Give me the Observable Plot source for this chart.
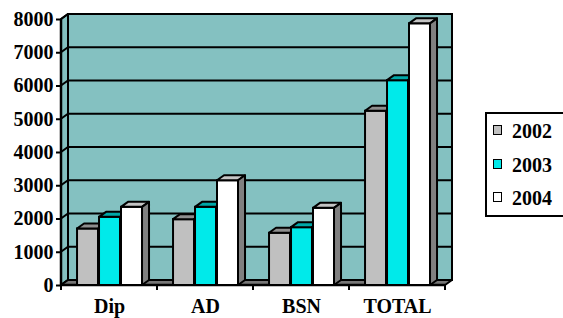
<!DOCTYPE html>
<html><head><meta charset="utf-8">
<script src="https://cdn.jsdelivr.net/npm/d3@7"></script>
<script src="https://cdn.jsdelivr.net/npm/@observablehq/plot@0.6"></script>
<style>
body{margin:0;background:#fff;}
#wrap{position:relative;width:563px;height:318px;overflow:hidden;background:#fff;}
.leg{position:absolute;left:485px;top:112px;width:120px;height:101px;border:2px solid #000;background:#fff;}
.item{position:absolute;left:0;height:20px;line-height:20px;font:bold 20px "Liberation Serif","Times New Roman",serif;color:#000;white-space:nowrap;}
.sw{position:absolute;left:6px;width:7px;height:8px;border:1.5px solid #000;}
.lt{position:absolute;left:25px;top:0;}
</style></head>
<body><div id="wrap"></div>
<script>
const categories = ["Dip", "AD", "BSN", "TOTAL"];
const years = ["2002", "2003", "2004"];
const values2002 = [1700, 1980, 1570, 5240];
const values2003 = [2050, 2350, 1740, 6160];
const values2004 = [2350, 3150, 2320, 7870];
const yTicks = [0, 1000, 2000, 3000, 4000, 5000, 6000, 7000, 8000];
const frontColors = ["#c0c0c0", "#00eaea", "#ffffff"];
const topColors = ["#8e8e8e", "#00a8a8", "#c4c4c4"];
const sideColors = ["#707070", "#009c9c", "#808080"];

const W = 563, H = 318, mL = 61, mR = 118, mT = 19, mB = 33;
const bw = (W - mL - mR) / categories.length;
const barW = bw * 0.219;
const offsets = [0.167, 0.396, 0.625].map(f => f * bw);
const DX = 7, DY = -5;
const series = [values2002, values2003, values2004];
const rows = series.map((vals, s) => categories.map((c, i) => ({cat: c, year: years[s], value: vals[i]})));

function backdrop(index, scales, values, dims) {
  const x = scales.x, y = scales.y;
  const g = d3.create("svg:g");
  const x0 = dims.marginLeft, x1 = dims.width - dims.marginRight;
  const yb = y(0), yt = y(d3.max(yTicks));
  const wall = "#84c1c1";
  g.append("path").attr("d", `M${x0},${yb}L${x0+DX},${yb+DY}L${x0+DX},${yt+DY}L${x0},${yt}Z`)
    .attr("fill", wall).attr("stroke", "#000").attr("stroke-width", 2).attr("stroke-linejoin", "round");
  g.append("rect").attr("x", x0 + DX).attr("y", yt + DY).attr("width", x1 - x0).attr("height", yb - yt)
    .attr("fill", wall).attr("stroke", "#000").attr("stroke-width", 2);
  for (const t of yTicks) {
    g.append("path").attr("d", `M${x0},${y(t)}L${x0+DX},${y(t)+DY}L${x1+DX},${y(t)+DY}`)
      .attr("fill", "none").attr("stroke", "#000").attr("stroke-width", 2);
  }
  g.append("path").attr("d", `M${x0},${yb}L${x0+DX},${yb+DY}L${x1+DX},${yb+DY}L${x1},${yb}Z`)
    .attr("fill", "#767676").attr("stroke", "#000").attr("stroke-width", 2).attr("stroke-linejoin", "round");
  g.append("path").attr("d", `M${x0},${yt}L${x0},${yb}L${x1},${yb}`)
    .attr("fill", "none").attr("stroke", "#000").attr("stroke-width", 2.5);
  const bounds = categories.map(c => x(c)).concat([x1]);
  for (const b of bounds) {
    g.append("line").attr("x1", b).attr("x2", b).attr("y1", yb).attr("y2", yb + 5)
      .attr("stroke", "#000").attr("stroke-width", 2);
  }
  return g.node();
}

const faces = s => (index, scales) => {
  const g = d3.create("svg:g");
  for (const d of rows[s]) {
    const xa = scales.x(d.cat) + offsets[s], xb = xa + barW;
    const yt = scales.y(d.value), yb = scales.y(0);
    g.append("path").attr("d", `M${xa},${yt}L${xa+DX},${yt+DY}L${xb+DX},${yt+DY}L${xb},${yt}Z`)
      .attr("fill", topColors[s]).attr("stroke", "#000").attr("stroke-width", 2).attr("stroke-linejoin", "round");
    g.append("path").attr("d", `M${xb},${yt}L${xb+DX},${yt+DY}L${xb+DX},${yb+DY}L${xb},${yb}Z`)
      .attr("fill", sideColors[s]).attr("stroke", "#000").attr("stroke-width", 2).attr("stroke-linejoin", "round");
  }
  return g.node();
};

const marks = [backdrop];
series.forEach((vals, s) => {
  marks.push(Plot.barY(rows[s], {
    x: "cat", y: "value", fill: frontColors[s], stroke: "#000", strokeWidth: 2,
    insetLeft: offsets[s], insetRight: bw - offsets[s] - barW
  }));
  marks.push(faces(s));
});
marks.push(Plot.axisY(yTicks, {tickSize: 5, tickPadding: 3, tickFormat: d3.format("d"), stroke: "#000", strokeWidth: 2, fontSize: 20}));
marks.push(Plot.axisX({tickSize: 0, tickPadding: 13, label: null, fontSize: 20}));

const chart = Plot.plot({
  width: W, height: H,
  marginLeft: mL, marginRight: mR, marginTop: mT, marginBottom: mB,
  x: {domain: categories, padding: 0},
  y: {domain: [0, 8000], label: null},
  style: {fontFamily: "'Liberation Serif', 'Times New Roman', serif", fontWeight: "bold", fontSize: "20px", color: "#000", background: "#fff"},
  marks
});
const wrap = document.getElementById("wrap");
wrap.appendChild(chart);

const leg = document.createElement("div");
leg.className = "leg";
const baselines = [137, 171, 203.5];
years.forEach((yr, s) => {
  const it = document.createElement("div");
  it.className = "item";
  it.style.top = (baselines[s] - 112 - 2 - 16.75) + "px";
  const sw = document.createElement("div");
  sw.className = "sw";
  sw.style.top = "5px";
  sw.style.background = frontColors[s];
  const t = document.createElement("span");
  t.className = "lt";
  t.textContent = yr;
  it.appendChild(sw); it.appendChild(t);
  leg.appendChild(it);
});
wrap.appendChild(leg);
</script>
</body></html>
